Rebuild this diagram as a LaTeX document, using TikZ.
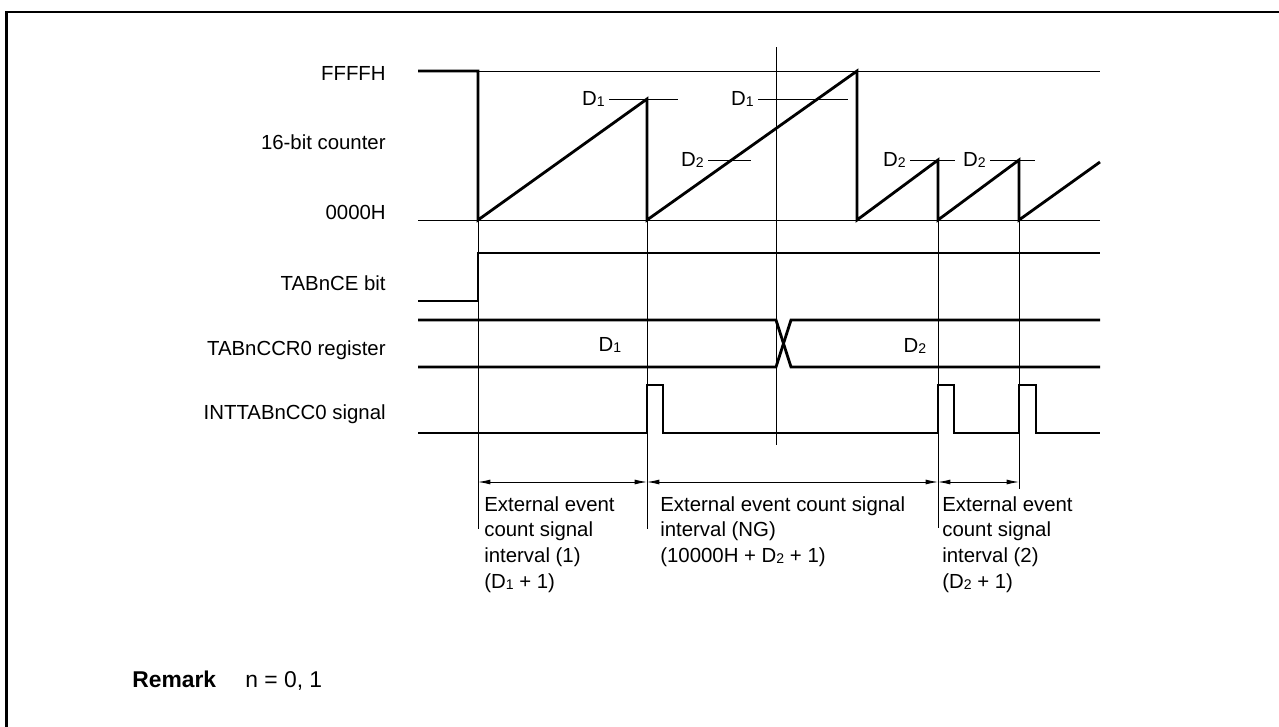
\documentclass[tikz,border=0pt]{standalone}
\usepackage{fontspec}
\setmainfont{Liberation Sans}
\usetikzlibrary{arrows.meta}

\newcommand*{\xleft}{418}
\newcommand*{\xright}{1100}
\newcommand*{\yffff}{71}
\newcommand*{\yzero}{220}
\newcommand*{\yDone}{99}
\newcommand*{\yDtwo}{160}
\newcommand*{\evA}{478}
\newcommand*{\evB}{647}
\newcommand*{\evC}{776}
\newcommand*{\evD}{857}
\newcommand*{\evE}{938}
\newcommand*{\evF}{1019}
\newcommand*{\Dsub}[1]{D\raisebox{-0.4pt}{\fontsize{8}{8}\selectfont #1}}

\begin{document}
\begin{tikzpicture}
[
	x=0.02cm, y=-0.02cm,
	wave/.style={line width=1.6pt},
	guide/.style={line width=0.5pt},
	lbl/.style={anchor=base east,inner sep=0pt},
	dlbl/.style={anchor=east,inner sep=0pt},
	interval/.style={guide,{Latex[length=7pt,width=2.8pt]}-{Latex[length=7pt,width=2.8pt]}},
	note/.style={anchor=north west,inner sep=0pt,align=left},
	every node/.style={font=\fontsize{11.6}{14.7}\selectfont}
]

	\useasboundingbox (0,0) rectangle (1279,727);

	% frame
	\draw[line width=1.7pt] (1300,12) -- (6.5,12) -- (6.5,750);

	% signal names
	\node[lbl] at (386,80) (ffff) {FFFFH};
	\node[lbl] at (386,149) (cnt) {16-bit counter};
	\node[lbl] at (386,219) (zero) {0000H};
	\node[lbl] at (386,290) (ce) {TABnCE bit};
	\node[lbl] at (386,355) (ccr) {TABnCCR0 register};
	\node[lbl] at (386,419) (intr) {INTTABnCC0 signal};

	% levels
	\draw[guide] (\evA,\yffff) -- (\xright,\yffff);
	\draw[guide] (\xleft,\yzero) -- (\xright,\yzero);

	% counter
	\draw[wave] (\xleft,\yffff) -- (\evA,\yffff) -- (\evA,\yzero)
	  -- (\evB,\yDone) -- (\evB,\yzero) -- (\evD,\yffff) -- (\evD,\yzero)
	  -- (\evE,\yDtwo) -- (\evE,\yzero) -- (\evF,\yDtwo) -- (\evF,\yzero)
	  -- (\xright,162);

	% compare values
	\node[dlbl] at (605,\yDone) (d1a) {\Dsub{1}};
	\draw[guide] ([xshift=2.3pt]d1a.east) -- (678,\yDone);
	%
	\node[dlbl] at (704,\yDtwo) (d2a) {\Dsub{2}};
	\draw[guide] ([xshift=2.3pt]d2a.east) -- (751,\yDtwo);
	%
	\node[dlbl] at (754,\yDone) (d1b) {\Dsub{1}};
	\draw[guide] ([xshift=2.3pt]d1b.east) -- (848,\yDone);
	%
	\node[dlbl] at (906,\yDtwo) (d2b) {\Dsub{2}};
	\draw[guide] ([xshift=2.3pt]d2b.east) -- (955,\yDtwo);
	%
	\node[dlbl] at (986,\yDtwo) (d2c) {\Dsub{2}};
	\draw[guide] ([xshift=2.3pt]d2c.east) -- (1035,\yDtwo);

	% dividers
	\draw[guide] (\evA,\yzero) -- (\evA,529);
	\draw[guide] (\evB,\yzero) -- (\evB,529);
	\draw[guide] (\evC,47) -- (\evC,445);
	\draw[guide] (\evE,\yzero) -- (\evE,528);
	\draw[guide] (\evF,\yzero) -- (\evF,489);

	% TABnCE
	\draw[wave] (\xleft,301) -- (\evA,301) -- (\evA,253) -- (\xright,253);

	% TABnCCR0
	\draw[wave] (\xleft,320) -- (\evC,320) -- (791,367) -- (\xright,367);
	\draw[wave] (\xleft,367) -- (\evC,367) -- (791,320) -- (\xright,320);
	\node at (610,345) (val1) {\Dsub{1}};
	\node at (915,346) (val2) {\Dsub{2}};

	% INTTABnCC0
	\draw[wave] (\xleft,433) -- (\evB,433) -- (\evB,385) -- (663,385) -- (663,433)
	  -- (\evE,433) -- (\evE,385) -- (954,385) -- (954,433)
	  -- (\evF,433) -- (\evF,385) -- (1036,385) -- (1036,433) -- (\xright,433);

	% intervals
	\coordinate (iA) at (\evA,482);
	\coordinate (iB) at (\evB,482);
	\coordinate (iE) at (\evE,482);
	\coordinate (iF) at (\evF,482);
	\draw[interval] (iA) -- (iB);
	\draw[interval] (iB) -- (iE);
	\draw[interval] (iE) -- (iF);

	% interval notes
	\node[note] at (484,496) (n1) {External event\\count signal\\interval (1)\\(\Dsub{1} + 1)};
	\node[note] at (660,496) (n2) {External event count signal\\interval (NG)\\(10000H + \Dsub{2} + 1)};
	\node[note] at (942,496) (n3) {External event\\count signal\\interval (2)\\(\Dsub{2} + 1)};

	% remark
	\node[anchor=base west,inner sep=0pt,font=\fontsize{13}{15}\selectfont] at (132,687) (rmk) {\textbf{Remark}};
	\node[anchor=base west,inner sep=0pt,font=\fontsize{13}{15}\selectfont] at (245,687) (rmkn) {n = 0, 1};

\end{tikzpicture}
\end{document}
